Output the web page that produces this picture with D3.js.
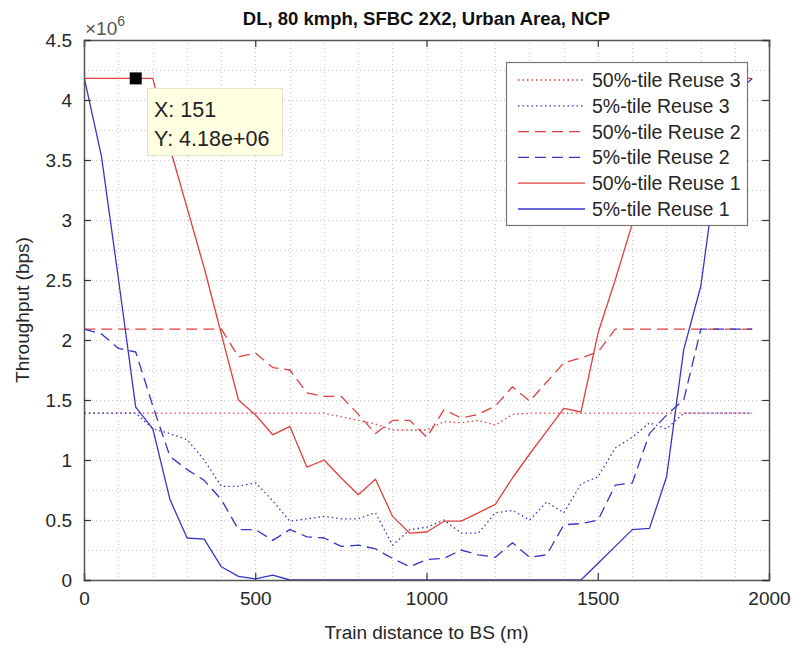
<!DOCTYPE html>
<html>
<head>
<meta charset="utf-8">
<script src="https://cdn.jsdelivr.net/npm/d3@7"></script>
<style>
  html, body { margin: 0; padding: 0; background: #fff; }
  svg { display: block; font-family: "Liberation Sans", Arial, Helvetica, sans-serif; }
</style>
</head>
<body>
<svg id="chart" width="798" height="650"></svg>
<script>
// ---- data (throughput in units of 1e6 bps) ----
const distance = [1, 51, 101, 151, 201, 251, 301, 351, 401, 451,
                  501, 551, 601, 651, 701, 751, 801, 851, 901, 951,
                  1001, 1051, 1101, 1151, 1201, 1251, 1301, 1351, 1401, 1451,
                  1501, 1551, 1601, 1651, 1701, 1751, 1801, 1851, 1901, 1951];

const p50Reuse3 = [1.39, 1.39, 1.39, 1.39, 1.39, 1.39, 1.39, 1.39, 1.39, 1.39,
                   1.39, 1.39, 1.39, 1.39, 1.39, 1.36, 1.33, 1.30, 1.25, 1.25,
                   1.25, 1.32, 1.31, 1.33, 1.29, 1.38, 1.39, 1.39, 1.39, 1.39,
                   1.39, 1.39, 1.39, 1.39, 1.39, 1.39, 1.39, 1.39, 1.39, 1.39];

const p5Reuse3 = [1.39, 1.39, 1.39, 1.39, 1.26, 1.22, 1.17, 1.00, 0.78, 0.78,
                  0.81, 0.66, 0.49, 0.51, 0.53, 0.51, 0.51, 0.56, 0.29, 0.42,
                  0.44, 0.50, 0.39, 0.39, 0.56, 0.58, 0.50, 0.65, 0.56, 0.80,
                  0.86, 1.10, 1.19, 1.31, 1.26, 1.39, 1.39, 1.39, 1.39, 1.39];

const p50Reuse2 = [2.09, 2.09, 2.09, 2.09, 2.09, 2.09, 2.09, 2.09, 2.09, 1.86,
                   1.89, 1.77, 1.75, 1.56, 1.53, 1.53, 1.38, 1.22, 1.33, 1.33,
                   1.19, 1.42, 1.35, 1.38, 1.45, 1.61, 1.49, 1.65, 1.81, 1.85,
                   1.90, 2.09, 2.09, 2.09, 2.09, 2.09, 2.09, 2.09, 2.09, 2.09];

const p5Reuse2 = [2.09, 2.05, 1.93, 1.90, 1.45, 1.03, 0.92, 0.83, 0.67, 0.42,
                  0.42, 0.33, 0.42, 0.36, 0.35, 0.28, 0.29, 0.26, 0.18, 0.11,
                  0.17, 0.18, 0.25, 0.21, 0.19, 0.31, 0.19, 0.21, 0.46, 0.47,
                  0.50, 0.79, 0.81, 1.22, 1.375, 1.50, 2.09, 2.09, 2.09, 2.09];

const p50Reuse1 = [4.18, 4.18, 4.18, 4.18, 4.18, 3.60, 3.10, 2.60, 2.05, 1.50,
                   1.375, 1.21, 1.28, 0.94, 1.00, 0.85, 0.71, 0.84, 0.53, 0.39,
                   0.40, 0.49, 0.49, 0.56, 0.63, 0.85, 1.05, 1.24, 1.43, 1.40,
                   2.06, 2.50, 2.97, 3.50, 4.00, 4.18, 4.18, 4.18, 4.18, 4.18];

const p5Reuse1 = [4.18, 3.53, 2.50, 1.44, 1.26, 0.67, 0.35, 0.34, 0.11, 0.03,
                  0.01, 0.04, 0.00, 0.00, 0.00, 0.00, 0.00, 0.00, 0.00, 0.00,
                  0.00, 0.00, 0.00, 0.00, 0.00, 0.00, 0.00, 0.00, 0.00, 0.00,
                  0.14, 0.28, 0.42, 0.43, 0.86, 1.92, 2.45, 3.50, 4.05, 4.18];

const seriesNames = ["50%-tile Reuse 3", "5%-tile Reuse 3", "50%-tile Reuse 2",
                     "5%-tile Reuse 2", "50%-tile Reuse 1", "5%-tile Reuse 1"];
const seriesValues = [p50Reuse3, p5Reuse3, p50Reuse2, p5Reuse2, p50Reuse1, p5Reuse1];

const xTicks = [0, 500, 1000, 1500, 2000];
const yTicks = [0, 0.5, 1, 1.5, 2, 2.5, 3, 3.5, 4, 4.5];
const xMinorGrid = [100, 200, 300, 400, 600, 700, 800, 900, 1100, 1200, 1300, 1400, 1600, 1700, 1800, 1900];
const yMinorGrid = [0.25, 0.75, 1.25, 1.75, 2.25, 2.75, 3.25, 3.75, 4.25];

const tipX = 151, tipY = 4.18;

// ---- styles ----
const RED = "#e0403f", BLUE = "#3636c8";
const styles = [
  { color: RED,  dash: "1.5,3" },
  { color: BLUE, dash: "1.5,3" },
  { color: RED,  dash: "11,6" },
  { color: BLUE, dash: "11,6" },
  { color: RED,  dash: null },
  { color: BLUE, dash: null }
];

const svg = d3.select("#chart");
const L = 84, R = 769, T = 40, B = 580;
const x = d3.scaleLinear().domain([0, 2000]).range([L, R]);
const y = d3.scaleLinear().domain([0, 4.5]).range([B, T]);

svg.append("rect").attr("x", 0).attr("y", 0).attr("width", 798).attr("height", 650).attr("fill", "#fff");

// grid
const grid = svg.append("g").attr("stroke", "#c4c4c4").attr("stroke-width", 1).attr("stroke-dasharray", "1,3");
const allXGrid = xTicks.concat(xMinorGrid).filter(v => v > 0 && v < 2000);
const allYGrid = yTicks.concat(yMinorGrid).filter(v => v > 0 && v < 4.5);
grid.selectAll("line.gx").data(allXGrid).join("line")
  .attr("x1", d => Math.round(x(d)) + 0.5).attr("x2", d => Math.round(x(d)) + 0.5)
  .attr("y1", T).attr("y2", B);
grid.selectAll("line.gy").data(allYGrid).join("line")
  .attr("y1", d => Math.round(y(d)) + 0.5).attr("y2", d => Math.round(y(d)) + 0.5)
  .attr("x1", L).attr("x2", R);

// lines
const line = d3.line().x((d, i) => x(distance[i])).y(d => y(d));
const plot = svg.append("g").attr("fill", "none");
seriesValues.forEach((vals, i) => {
  plot.append("path")
    .attr("d", line(vals))
    .attr("stroke", styles[i].color)
    .attr("stroke-width", 1.3)
    .attr("stroke-dasharray", styles[i].dash)
    .attr("stroke-linejoin", "round");
});

// axes
const axisColor = "#555";
const fontSize = 19;
const xAxis = svg.append("g").attr("transform", `translate(0,${B})`)
  .call(d3.axisBottom(x).tickValues(xTicks).tickSize(-7).tickPadding(12).tickFormat(d3.format("d")));
const xAxisTop = svg.append("g").attr("transform", `translate(0,${T})`)
  .call(d3.axisTop(x).tickValues(xTicks).tickSize(-7).tickFormat(""));
const yAxis = svg.append("g").attr("transform", `translate(${L},0)`)
  .call(d3.axisLeft(y).tickValues(yTicks).tickSize(-7).tickPadding(12).tickFormat(d => d3.format("")(d)));
const yAxisRight = svg.append("g").attr("transform", `translate(${R},0)`)
  .call(d3.axisRight(y).tickValues(yTicks).tickSize(-7).tickFormat(""));
[xAxis, xAxisTop, yAxis, yAxisRight].forEach(g => {
  g.select(".domain").attr("stroke", axisColor).attr("stroke-width", 1.5);
  g.selectAll(".tick line").attr("stroke", "#333").attr("stroke-width", 1.2);
  g.selectAll(".tick text").attr("fill", "#262626").attr("font-size", fontSize)
    .attr("font-family", "'Liberation Sans', Arial, sans-serif");
});

// exponent label
const expo = svg.append("text").attr("x", x(0) + 1).attr("y", T - 5)
  .attr("font-size", 19).attr("fill", "#555");
expo.append("tspan").text("×10");
expo.append("tspan").attr("dy", -9).attr("font-size", 14).text("6");

// axis labels
svg.append("text").attr("x", (L + R) / 2).attr("y", 639).attr("text-anchor", "middle")
  .attr("font-size", 19).attr("fill", "#262626").text("Train distance to BS (m)");
svg.append("text").attr("transform", `translate(29,${(T + B) / 2}) rotate(-90)`)
  .attr("text-anchor", "middle").attr("font-size", 19).attr("fill", "#262626").text("Throughput (bps)");

// title
svg.append("text").attr("x", (L + R) / 2).attr("y", 25).attr("text-anchor", "middle")
  .attr("font-size", 18.5).attr("font-weight", "bold").attr("fill", "#111")
  .text("DL, 80 kmph, SFBC 2X2, Urban Area, NCP");

// legend
const lg = svg.append("g");
lg.append("rect").attr("x", 506.5).attr("y", 62.5).attr("width", 241).attr("height", 163)
  .attr("fill", "#fff").attr("stroke", "#777").attr("stroke-width", 1.2);
seriesNames.forEach((name, i) => {
  const cy = 80 + i * 25.8;
  lg.append("line").attr("x1", 518).attr("x2", 585).attr("y1", cy).attr("y2", cy)
    .attr("stroke", styles[i].color).attr("stroke-width", 1.3).attr("stroke-dasharray", styles[i].dash);
  lg.append("text").attr("x", 592).attr("y", cy + 7).attr("font-size", 19.5).attr("fill", "#262626").text(name);
});

// data tip
const tx = x(tipX), ty = y(tipY);
svg.append("rect").attr("x", tx - 6).attr("y", ty - 6).attr("width", 12).attr("height", 12).attr("fill", "#000");
const tip = svg.append("g");
tip.append("rect").attr("x", 147.5).attr("y", 88.5).attr("width", 135).attr("height", 67)
  .attr("fill", "#ffffe1").attr("stroke", "#e3e3c8").attr("stroke-width", 1);
tip.append("text").attr("x", 154).attr("y", 117).attr("font-size", 21.5).attr("fill", "#222").text("X: " + tipX);
tip.append("text").attr("x", 154).attr("y", 146).attr("font-size", 21.5).attr("fill", "#222")
  .text("Y: " + d3.format(".2f")(tipY) + "e+06");
</script>
</body>
</html>
